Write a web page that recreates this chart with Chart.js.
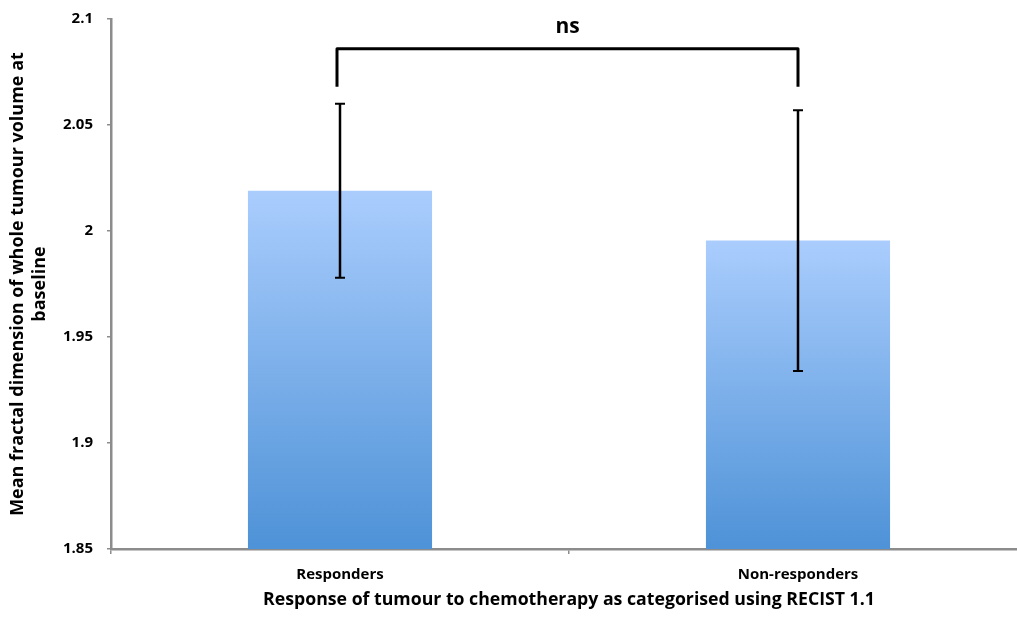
<!DOCTYPE html>
<html>
<head>
<meta charset="utf-8">
<script src="https://cdn.jsdelivr.net/npm/chart.js@4"></script>
<style>
	html, body { margin: 0; padding: 0; background: #fff; overflow: hidden; }
	#wrap { width: 1027px; height: 617px; position: relative; }
</style>
</head>
<body>
<div id="wrap"><canvas id="fractalChart"></canvas></div>
<script>
// values
const categories = ["Responders", "Non-responders"];
const meanValues = [2.019, 1.9955];
const errLow = [1.978, 1.934];
const errHigh = [2.060, 2.057];
const yTicks = [1.85, 1.9, 1.95, 2, 2.05, 2.1];
const sigLabel = "ns";
const bracketLevels = [2.086, 2.068]; // top of bracket, end of its legs

const FONT = "'Open Sans', 'Noto Sans', sans-serif";
const AXIS_GREY = "#8c8c8c";

document.addEventListener("DOMContentLoaded", () => {

	// per-bar vertical gradient, light at the top of each bar
	function barFill(ctx) {
		const chart = ctx.chart;
		const area = chart.chartArea;
		if (!area || ctx.dataIndex === undefined) return "#7aaeea";
		const y = chart.scales.y;
		const top = y.getPixelForValue(meanValues[ctx.dataIndex]);
		const g = chart.ctx.createLinearGradient(0, top, 0, area.bottom);
		g.addColorStop(0, "#aacdfd");
		g.addColorStop(1, "#4e92d7");
		return g;
	}

	/* error bars and the significance bracket */
	const errorBars = {
		id: "errorBars",
		afterDatasetsDraw(chart) {
			const c = chart.ctx;
			const y = chart.scales.y;
			const meta = chart.getDatasetMeta(0);
			c.save();
			c.strokeStyle = "#000";
			c.lineCap = "butt";
			meta.data.forEach((bar, i) => {
				const yl = y.getPixelForValue(errLow[i]);
				const yh = y.getPixelForValue(errHigh[i]);
				c.lineWidth = 2.5;
				c.beginPath();
				c.moveTo(bar.x, yl); c.lineTo(bar.x, yh);
				c.stroke();
				c.lineWidth = 2;
				c.beginPath();
				c.moveTo(bar.x - 5, yh); c.lineTo(bar.x + 5, yh);
				c.moveTo(bar.x - 5, yl); c.lineTo(bar.x + 5, yl);
				c.stroke();
			});

			// bracket
			const x0 = meta.data[0].x - 3;
			const x1 = meta.data[1].x;
			const yTop = y.getPixelForValue(bracketLevels[0]);
			const yLeg = y.getPixelForValue(bracketLevels[1]);
			c.lineWidth = 3;
			c.lineJoin = "round";
			c.beginPath();
			c.moveTo(x0, yLeg); c.lineTo(x0, yTop); c.lineTo(x1, yTop); c.lineTo(x1, yLeg);
			c.stroke();

			c.fillStyle = "#000";
			c.font = "bold 21px " + FONT;
			c.textAlign = "center";
			c.textBaseline = "middle";
			c.fillText(sigLabel, (x0 + x1) / 2, yTop - 22);
			c.restore();
		}
	};

	window.fractalChart = new Chart(document.getElementById("fractalChart"), {
		type: "bar",
		data: {
			labels: categories,
			datasets: [{
				data: meanValues,
				backgroundColor: barFill,
				borderWidth: 0,
				barPercentage: 1,
				categoryPercentage: 0.402
			}]
		},
		options: {
			responsive: true,
			maintainAspectRatio: false,
			animation: false,
			layout: { padding: { top: 19, right: 0, bottom: 0, left: 0 } },
			plugins: {
				legend: { display: false },
				tooltip: { enabled: false }
			},
			scales: {
				x: {
					offset: true,
					grid: {
						display: true,
						offset: true,
						drawOnChartArea: false,
						drawTicks: true,
						tickLength: 5,
						color: AXIS_GREY,
						lineWidth: 1.5
					},
					border: { color: AXIS_GREY, width: 2.5 },
					ticks: {
						color: "#000",
						font: { family: FONT, size: 15, weight: 700 },
						padding: 12
					},
					title: {
						display: true,
						text: "Response of tumour to chemotherapy as categorised using RECIST 1.1",
						color: "#000",
						font: { family: FONT, size: 17.7, weight: 700 },
						padding: { top: 0, bottom: 6 }
					},
					afterFit(scale) { scale.height = 68; }
				},
				y: {
					min: 1.85,
					max: 2.1,
					afterBuildTicks(scale) {
						scale.ticks = yTicks.map(v => ({ value: v }));
					},
					grid: {
						display: true,
						drawOnChartArea: false,
						drawTicks: true,
						tickLength: 4,
						color: AXIS_GREY,
						lineWidth: 1.5
					},
					border: { color: AXIS_GREY, width: 2.5 },
					ticks: {
						color: "#000",
						font: { family: FONT, size: 15, weight: 700, lineHeight: 1 },
						padding: 14,
						callback: v => String(v)
					},
					title: {
						display: true,
						text: ["Mean fractal dimension of whole tumour volume at", "baseline"],
						color: "#000",
						font: { family: FONT, size: 18, weight: 700, lineHeight: 1.2 },
						padding: { top: 7, bottom: 0 }
					},
					afterFit(scale) {
						scale.width = 111;
						scale.paddingTop = 0;
						scale.paddingBottom = 0;
					}
				}
			}
		},
		plugins: [errorBars]
	});
});
</script>
</body>
</html>
